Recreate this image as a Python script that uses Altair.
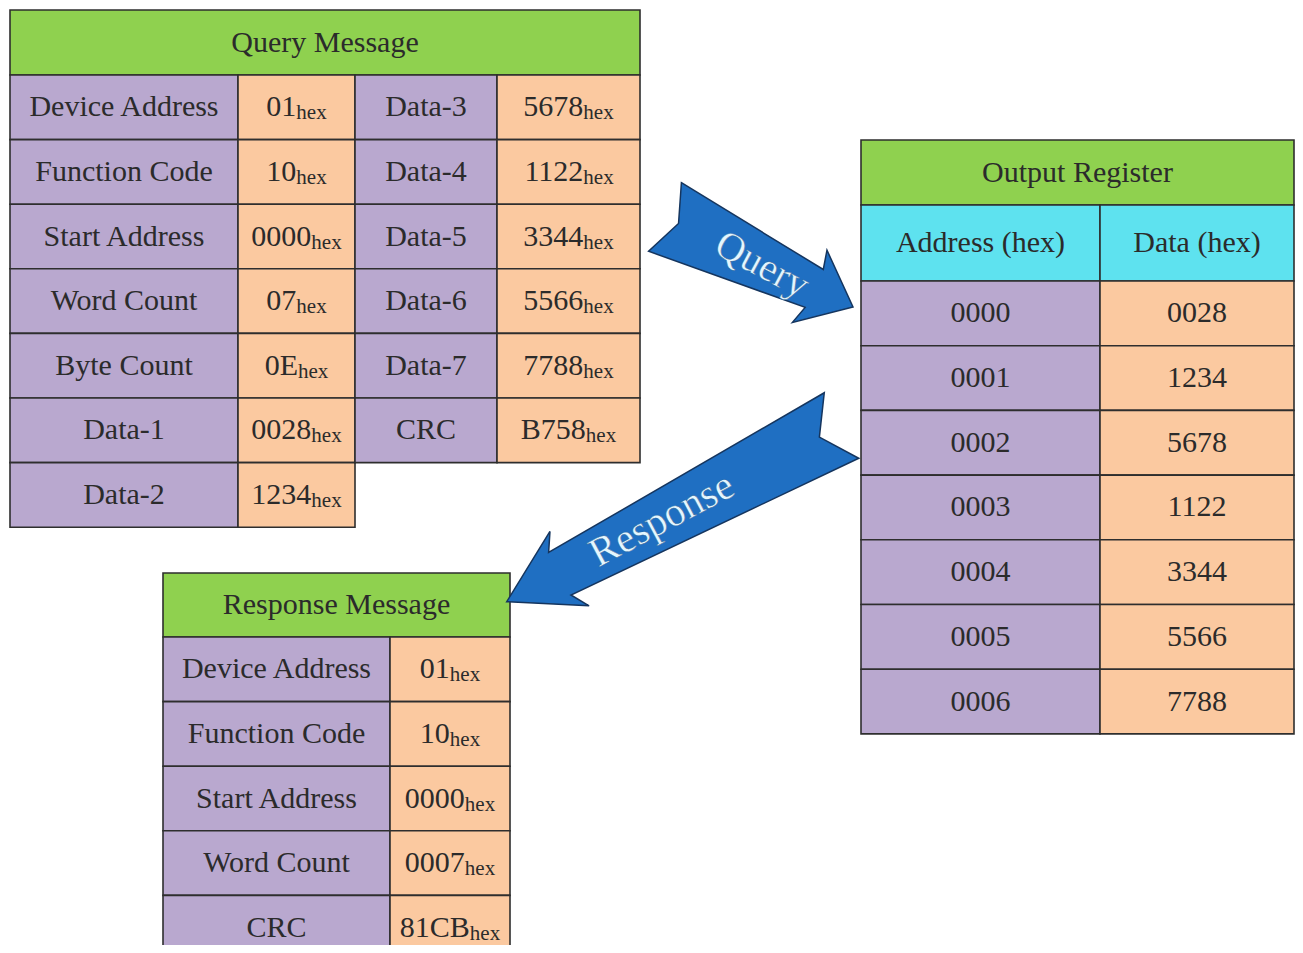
import math
import altair as alt
import pandas as pd

# ---------------- data (texts of the diagram) ----------------
query_title = "Query Message"
query_left_labels = ["Device Address", "Function Code", "Start Address", "Word Count",
                     "Byte Count", "Data-1", "Data-2"]
query_left_values = ["01", "10", "0000", "07", "0E", "0028", "1234"]
query_right_labels = ["Data-3", "Data-4", "Data-5", "Data-6", "Data-7", "CRC"]
query_right_values = ["5678", "1122", "3344", "5566", "7788", "B758"]

register_title = "Output Register"
register_headers = ["Address (hex)", "Data (hex)"]
register_addresses = ["0000", "0001", "0002", "0003", "0004", "0005", "0006"]
register_data = ["0028", "1234", "5678", "1122", "3344", "5566", "7788"]

response_title = "Response Message"
response_labels = ["Device Address", "Function Code", "Start Address", "Word Count", "CRC"]
response_values = ["01", "10", "0000", "0007", "81CB"]

arrow_labels = ["Query", "Response"]
SUFFIX = "hex"

# ---------------- layout / style ----------------
PAGE = 8
W, H = 1287, 937
GREEN, CYAN, PURPLE, PEACH = "#8fd14f", "#5ee2ef", "#b9a8cf", "#fbc9a0"
BORDER = "#2e2e2e"
INK = "#2b2b2b"
FONT = "Liberation Serif"
FS, FS_SUB = 30, 21
ROW_H = 64.6
BASE, SUB_BASE = 9, 12

q_cols = [10, 238, 355, 497, 640]
q_top = 10
r_cols = [861, 1100, 1294]
r_top = 140
s_cols = [163, 390, 510]
s_top = 573

CHAR_W = {"A": .722, "B": .667, "C": .667, "D": .722, "E": .611, "F": .556}


def text_w(s, size):
    return sum(CHAR_W.get(c, 0.5) for c in s) * size


rects, labels, values = [], [], []


def cell(x1, x2, y1, y2, fill):
    rects.append(dict(x1=x1, x2=x2, y1=y1, y2=y2, fill=fill))


def label(x1, x2, y1, y2, t):
    labels.append(dict(x=(x1 + x2) / 2, y=(y1 + y2) / 2 + BASE, text=t))


def value(x1, x2, y1, y2, t):
    cx = (x1 + x2) / 2
    wm = text_w(t, FS)
    ws = 1.444 * FS_SUB
    anchor = cx - (wm + ws) / 2 + wm
    c = (y1 + y2) / 2
    values.append(dict(x=anchor, y=c + BASE, ys=c + SUB_BASE, text=t, sub=SUFFIX))


# Query message
t2 = q_top + 65
cell(q_cols[0], q_cols[4], q_top, t2, GREEN)
label(q_cols[0], q_cols[4], q_top, t2, query_title)
for i, (lab, val) in enumerate(zip(query_left_labels, query_left_values)):
    y1, y2 = t2 + i * ROW_H, t2 + (i + 1) * ROW_H
    cell(q_cols[0], q_cols[1], y1, y2, PURPLE)
    cell(q_cols[1], q_cols[2], y1, y2, PEACH)
    label(q_cols[0], q_cols[1], y1, y2, lab)
    value(q_cols[1], q_cols[2], y1, y2, val)
for i, (lab, val) in enumerate(zip(query_right_labels, query_right_values)):
    y1, y2 = t2 + i * ROW_H, t2 + (i + 1) * ROW_H
    cell(q_cols[2], q_cols[3], y1, y2, PURPLE)
    cell(q_cols[3], q_cols[4], y1, y2, PEACH)
    label(q_cols[2], q_cols[3], y1, y2, lab)
    value(q_cols[3], q_cols[4], y1, y2, val)

# Output register
h1, h2 = r_top + 65, r_top + 141
cell(r_cols[0], r_cols[2], r_top, h1, GREEN)
label(r_cols[0], r_cols[2], r_top, h1, register_title)
for j, hd in enumerate(register_headers):
    cell(r_cols[j], r_cols[j + 1], h1, h2, CYAN)
    label(r_cols[j], r_cols[j + 1], h1, h2, hd)
for i, (a, d) in enumerate(zip(register_addresses, register_data)):
    y1, y2 = h2 + i * 64.7, h2 + (i + 1) * 64.7
    cell(r_cols[0], r_cols[1], y1, y2, PURPLE)
    cell(r_cols[1], r_cols[2], y1, y2, PEACH)
    label(r_cols[0], r_cols[1], y1, y2, a)
    label(r_cols[1], r_cols[2], y1, y2, d)

# Response message
s2 = s_top + 64
cell(s_cols[0], s_cols[2], s_top, s2, GREEN)
label(s_cols[0], s_cols[2], s_top, s2, response_title)
for i, (lab, val) in enumerate(zip(response_labels, response_values)):
    y1, y2 = s2 + i * ROW_H, s2 + (i + 1) * ROW_H
    cell(s_cols[0], s_cols[1], y1, y2, PURPLE)
    cell(s_cols[1], s_cols[2], y1, y2, PEACH)
    label(s_cols[0], s_cols[1], y1, y2, lab)
    value(s_cols[1], s_cols[2], y1, y2, val)


# Arrows (block arrows with notched tail), built from tail, tip and widths
def arrow_feature(tail, tip, tail_hw, notch, neck_back, neck_hw, barb_back, barb_hw):
    dx, dy = tip[0] - tail[0], tip[1] - tail[1]
    L = math.hypot(dx, dy)
    ux, uy = dx / L, dy / L
    nx, ny = -uy, ux
    local = [(0, -tail_hw), (L - neck_back, -neck_hw), (L - barb_back, -barb_hw), (L, 0),
             (L - barb_back, barb_hw), (L - neck_back, neck_hw), (0, tail_hw), (notch, 0)]
    pts = [[tail[0] + s * ux + t * nx - PAGE, tail[1] + s * uy + t * ny - PAGE] for s, t in local]
    pts.append(pts[0])
    return {"type": "Feature", "properties": {},
            "geometry": {"type": "Polygon", "coordinates": [pts]}}


arrows = [
    arrow_feature((665, 217), (853, 307), 38, 15, 43, 21, 48, 40),
    arrow_feature((841.5, 425.5), (506.7, 601.7), 37, 25, 60, 24, 71, 42),
]
arrow_text = pd.DataFrame(dict(x=[762, 662], y=[265, 520], text=arrow_labels,
                               angle=[28, 332], size=[40, 41]))

xs = alt.Scale(domain=[PAGE, PAGE + W], nice=False, zero=False)
ys = alt.Scale(domain=[PAGE, PAGE + H], nice=False, zero=False, reverse=True)

df_r = pd.DataFrame(rects)
df_l = pd.DataFrame(labels)
df_v = pd.DataFrame(values)

rect_layer = alt.Chart(df_r).mark_rect(stroke=BORDER, strokeWidth=1.6).encode(
    x=alt.X("x1:Q", scale=xs, axis=None), x2="x2:Q",
    y=alt.Y("y1:Q", scale=ys, axis=None), y2="y2:Q",
    fill=alt.Fill("fill:N", scale=None),
)
label_layer = alt.Chart(df_l).mark_text(font=FONT, fontSize=FS, color=INK, align="center",
                                        baseline="alphabetic").encode(
    x=alt.X("x:Q", scale=xs, axis=None), y=alt.Y("y:Q", scale=ys, axis=None), text="text:N")
value_layer = alt.Chart(df_v).mark_text(font=FONT, fontSize=FS, color=INK, align="right",
                                        baseline="alphabetic").encode(
    x=alt.X("x:Q", scale=xs, axis=None), y=alt.Y("y:Q", scale=ys, axis=None), text="text:N")
sub_layer = alt.Chart(df_v).mark_text(font=FONT, fontSize=FS_SUB, color=INK, align="left",
                                      baseline="alphabetic").encode(
    x=alt.X("x:Q", scale=xs, axis=None), y=alt.Y("ys:Q", scale=ys, axis=None), text="sub:N")

arrow_layer = alt.Chart(alt.Data(values=arrows)).mark_geoshape(
    fill="#1f6fc2", stroke="#15355e", strokeWidth=1.5
).project(type="identity", scale=1, translate=[0, 0])

arrow_text_layer = alt.Chart(arrow_text).mark_text(
    font=FONT, color="#e4f6ff", align="center", baseline="middle",
    stroke="#2a5a8a", strokeWidth=0.4
).encode(
    x=alt.X("x:Q", scale=xs, axis=None), y=alt.Y("y:Q", scale=ys, axis=None),
    text="text:N", angle=alt.Angle("angle:Q", scale=None), size=alt.Size("size:Q", scale=None),
)

chart = alt.layer(
    rect_layer, label_layer, value_layer, sub_layer, arrow_layer, arrow_text_layer
).properties(
    width=W, height=H, padding=0, autosize=alt.AutoSizeParams(type="none"),
    background="white",
).configure_view(stroke=None)

chart.save("out.html", embed_options={"renderer": "svg", "actions": False})
